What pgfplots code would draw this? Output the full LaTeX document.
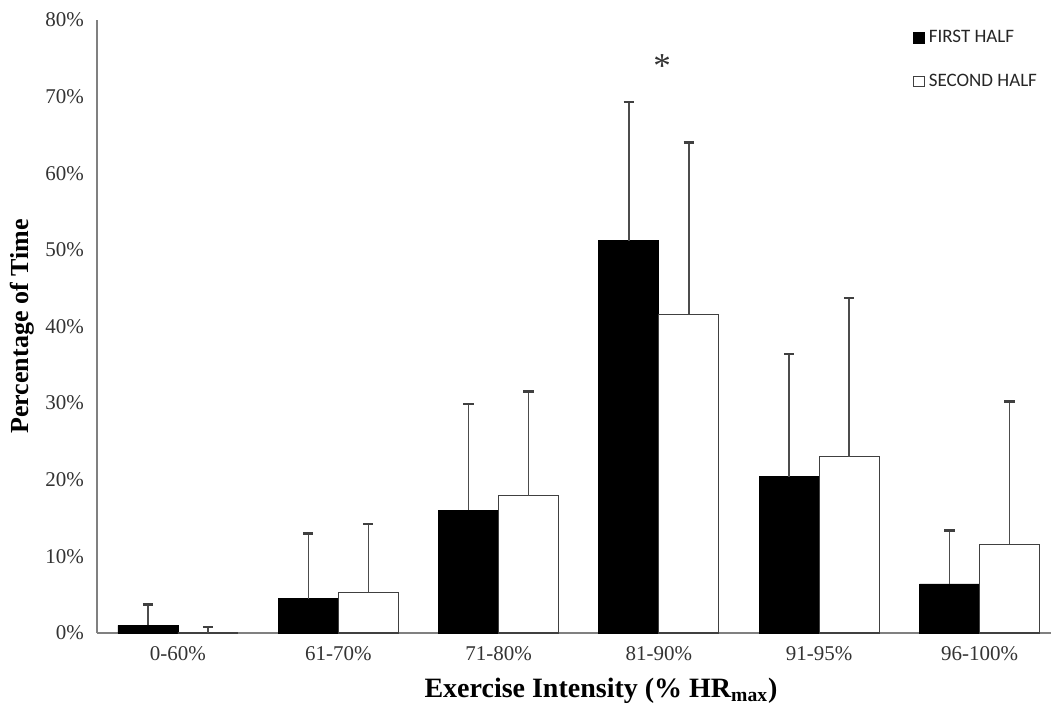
\documentclass[border=0pt]{standalone}
\usepackage{pgfplots}
\pgfplotsset{compat=1.18}
\usepackage{fontspec}
\setmainfont{Liberation Serif}
\newfontfamily\carlito{Carlito}
\begin{document}
\begin{tikzpicture}[x=1pt,y=1pt]
\path[use as bounding box] (0,0) rectangle (525.5,354.5);
\begin{axis}[
  at={(48.5pt,38pt)}, anchor=south west,
  scale only axis, width=477pt, height=306.5pt,
  xmin=-0.505, xmax=5.446, ymin=0, ymax=80,
  axis x line*=bottom, axis y line*=left,
  axis line style={draw=black!50, line width=0.75pt},
  major tick length=0pt,
  ytick={0,10,...,80},
  yticklabel={\pgfmathprintnumber{\tick}\%},
  xtick={0,1,2,3,4,5},
  xticklabels={0-60\%,61-70\%,71-80\%,81-90\%,91-95\%,96-100\%},
  /pgf/number format/assume math mode=true,
  tick label style={font=\fontsize{10.5}{12}\selectfont, text=black!80},
  yticklabel style={xshift=-3pt},
  xticklabel style={yshift=-3pt},
  xlabel={\textbf{Exercise Intensity (\% HR\textsubscript{max})}},
  ylabel={\textbf{Percentage of Time}},
  xlabel style={font=\fontsize{14}{16}\selectfont, yshift=-2pt, xshift=13.5pt},
  ylabel style={font=\fontsize{13}{15}\selectfont, yshift=-1.5pt},
  legend style={at={(0.855,0.99)}, anchor=north west, draw=none, fill=none,
    font=\carlito\fontsize{9.5}{10}\selectfont, row sep=10pt, inner sep=0pt,
    text=black!85},
  legend cell align=left,
  legend image code/.code={\draw[#1,line width=0.5pt] (0pt,-2.7pt) rectangle (5.4pt,2.7pt);},
]
\addplot[ybar, bar width=30pt, bar shift=0pt, fill=black, draw=black,
  error bars/.cd, y dir=plus, y explicit,
  error bar style={draw=black!70, line width=0.75pt},
  error mark options={rotate=90, draw=black!75, line width=1.3pt, mark size=2.6pt}]
coordinates {
  (-0.1871,1.0) +- (0,2.7)
  (0.8129,4.5) +- (0,8.5)
  (1.8129,16.0) +- (0,13.9)
  (2.8129,51.2) +- (0,18.1)
  (3.8129,20.4) +- (0,16.0)
  (4.8129,6.4) +- (0,7.0)
};
\addlegendentry{FIRST HALF}
\addplot[ybar, bar width=30pt, bar shift=0pt, fill=white, draw=black!75, line width=0.6pt,
  error bars/.cd, y dir=plus, y explicit,
  error bar style={draw=black!70, line width=0.75pt},
  error mark options={rotate=90, draw=black!75, line width=1.3pt, mark size=2.6pt}]
coordinates {
  (0.1871,0) +- (0,0.8)
  (1.1871,5.3) +- (0,8.9)
  (2.1871,17.9) +- (0,13.6)
  (3.1871,41.6) +- (0,22.4)
  (4.1871,23.0) +- (0,20.7)
  (5.1871,11.6) +- (0,18.6)
};
\addlegendentry{SECOND HALF}
\node[font=\fontsize{17.5}{17.5}\selectfont, text=black!80] at (axis cs:3.02,74.0) {*};
\end{axis}
\end{tikzpicture}
\end{document}
